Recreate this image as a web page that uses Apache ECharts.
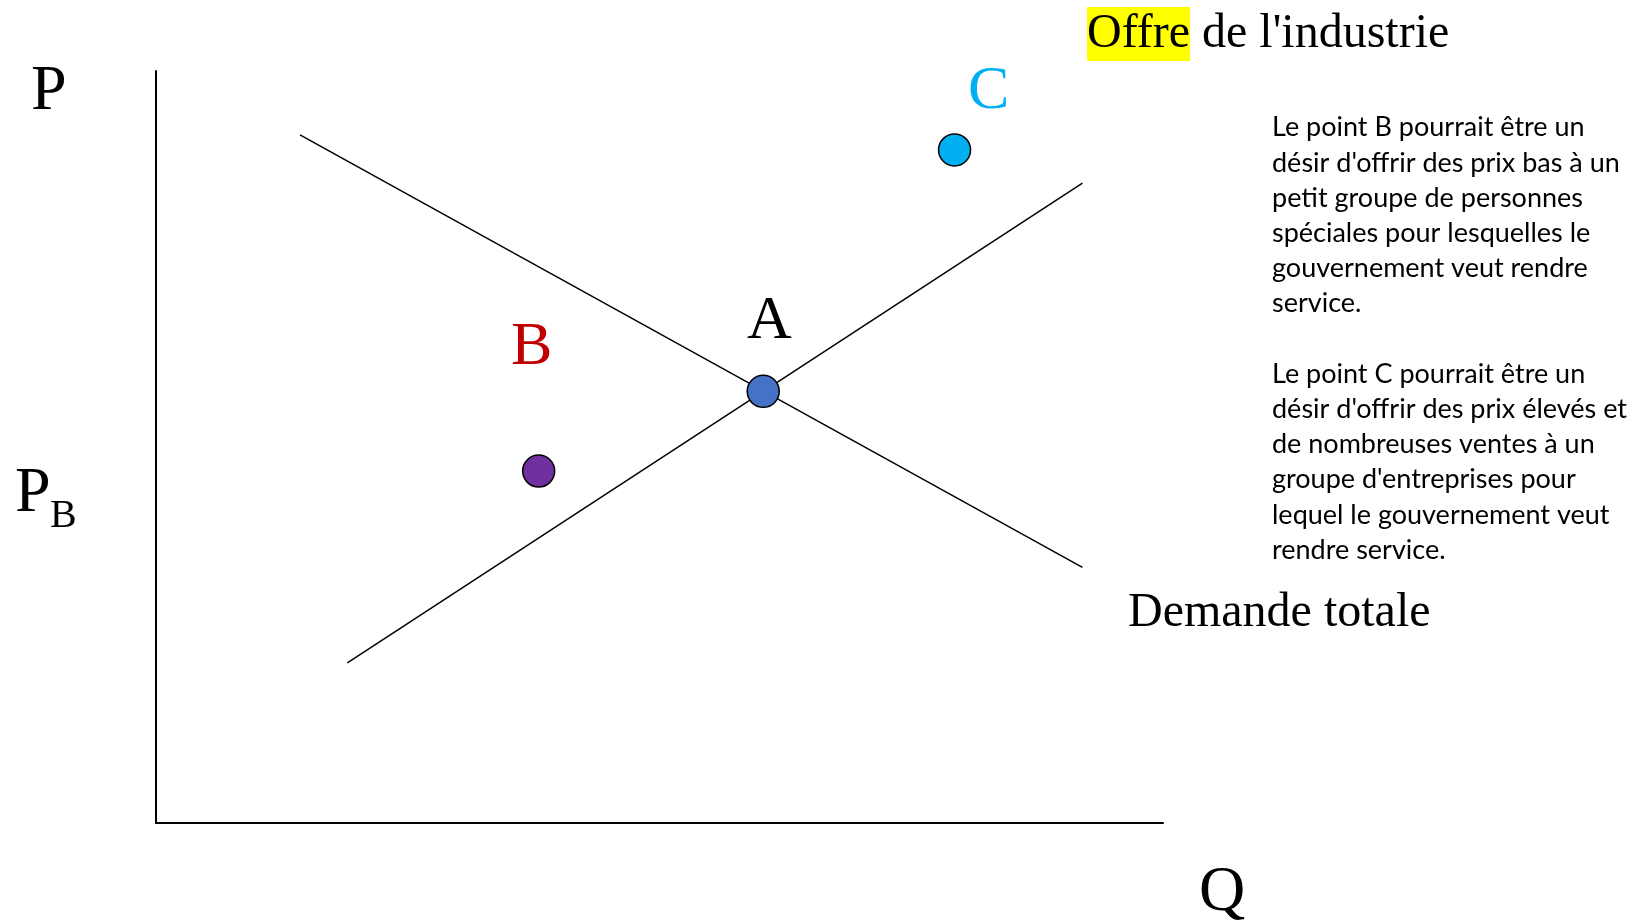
<!DOCTYPE html>
<html>
<head>
<meta charset="utf-8">
<script src="https://cdn.jsdelivr.net/npm/echarts@6/dist/echarts.min.js"></script>
<style>html,body{margin:0;padding:0;background:#fff}#c{width:1651px;height:923px}</style>
</head>
<body>
<div id="c"></div>
<script>
// ---- data (axis units 0..100) ----
const demandLine = [[14.3, 91.5], [92.0, 34.0]];
const supplyLine = [[19.0, 21.3], [92.0, 85.1]];
const pointNames = ['A', 'B', 'C'];
const pointValues = [[60.3, 57.4], [38.0, 46.8], [79.3, 89.5]];
const pointColors = ['#4472C4', '#7030A0', '#00B0F0'];
const labelValues = [[60.9, 66.7], [37.3, 63.2], [82.7, 97.2]];
const labelColors = ['#000000', '#C00000', '#00B0F0'];
const noteLines = [
  "Le point B pourrait être un",
  "désir d'offrir des prix bas à un",
  "petit groupe de personnes",
  "spéciales pour lesquelles le",
  "gouvernement veut rendre",
  "service.",
  "",
  "Le point C pourrait être un",
  "désir d'offrir des prix élevés et",
  "de nombreuses ventes à un",
  "groupe d'entreprises pour",
  "lequel le gouvernement veut",
  "rendre service."
];

const serif = '"Liberation Serif", "Times New Roman", serif';
const chart = echarts.init(document.getElementById('c'));
chart.setOption({
  animation: false,
  backgroundColor: '#ffffff',
  grid: { left: 156, top: 71, right: 488, bottom: 100, containLabel: false },
  xAxis: {
    type: 'value', min: 0, max: 100,
    axisLine: { show: true, onZero: false, lineStyle: { color: '#000', width: 2 } },
    axisTick: { show: false }, axisLabel: { show: false }, splitLine: { show: false }
  },
  yAxis: {
    type: 'value', min: 0, max: 100,
    axisLine: { show: true, onZero: false, lineStyle: { color: '#000', width: 2 } },
    axisTick: { show: false }, axisLabel: { show: false }, splitLine: { show: false }
  },
  series: [
    { type: 'line', name: 'Demande totale', data: demandLine, symbol: 'none', z: 2,
      lineStyle: { color: '#000', width: 1.5 }, silent: true },
    { type: 'line', name: "Offre de l'industrie", data: supplyLine, symbol: 'none', z: 2,
      lineStyle: { color: '#000', width: 1.5 }, silent: true },
    { type: 'scatter', data: pointValues.map((v, i) => ({ value: v, name: pointNames[i],
        itemStyle: { color: pointColors[i], borderColor: '#000', borderWidth: 1.5, opacity: 1 } })),
      symbolSize: 32, z: 10 },
    { type: 'scatter', data: labelValues.map((v, i) => ({ value: v,
        label: { show: true, formatter: pointNames[i], color: labelColors[i] } })),
      symbolSize: 0, z: 10, itemStyle: { opacity: 1 },
      label: { position: 'inside', fontFamily: serif, fontSize: 62, align: 'center', verticalAlign: 'middle' } }
  ],
  graphic: [
    { type: 'text', x: 31, y: 92, style: { text: 'P', font: '64px ' + serif, fill: '#000', verticalAlign: 'middle' } },
    { type: 'text', x: 15, y: 494, style: { text: 'P', font: '64px ' + serif, fill: '#000', verticalAlign: 'middle' } },
    { type: 'text', x: 50, y: 516, style: { text: 'B', font: '40px ' + serif, fill: '#000', verticalAlign: 'middle' } },
    { type: 'text', x: 1199, y: 893, style: { text: 'Q', font: '64px ' + serif, fill: '#000', verticalAlign: 'middle' } },
    { type: 'text', x: 1128, y: 613, style: { text: 'Demande totale', font: '48px ' + serif, fill: '#000', verticalAlign: 'middle' } },
    { type: 'text', x: 1087, y: 7, style: {
        text: '{h|Offre} {n|de l\'industrie}', verticalAlign: 'top',
        rich: {
          h: { fontFamily: serif, fontSize: 48, lineHeight: 54, height: 54, backgroundColor: '#FFFF00', color: '#000' },
          n: { fontFamily: serif, fontSize: 48, lineHeight: 54, color: '#000' }
        },
        fontFamily: serif, fontSize: 48, lineHeight: 54
      } },
    { type: 'text', x: 1272, y: 110, style: {
        text: noteLines.join('\n'), font: '27px Lato', lineHeight: 35.2, fill: '#000', verticalAlign: 'top'
      } }
  ]
});
</script>
</body>
</html>
